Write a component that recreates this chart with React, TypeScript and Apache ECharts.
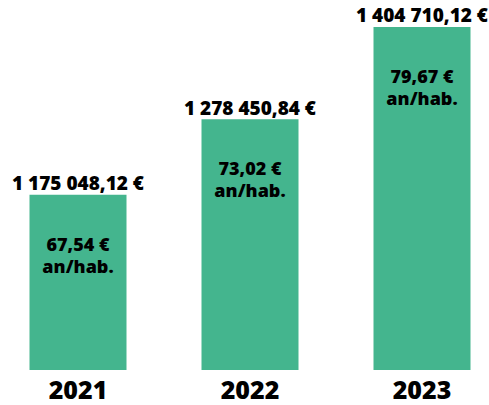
import React, { useEffect, useRef } from "react";
import * as echarts from "echarts";

const years = ["2021", "2022", "2023"];
const totals = [1175048.12, 1278450.84, 1404710.12];
const perCapita = [67.54, 73.02, 79.67];

const BAR_COLOR = "#44B58E";
const FONT = "Open Sans";

function frNumber(v: number): string {
  const [intPart, dec] = v.toFixed(2).split(".");
  const grouped = intPart.replace(/\B(?=(\d{3})+(?!\d))/g, " ");
  return `${grouped},${dec}`;
}

export default function App() {
  const ref = useRef<HTMLDivElement>(null);

  useEffect(() => {
    if (!ref.current) return;
    const chart = echarts.init(ref.current, undefined, { renderer: "svg" });
    chart.setOption({
      animation: false,
      grid: { left: 0, right: 0, top: 26, bottom: 35 },
      xAxis: {
        type: "category",
        data: years,
        axisLine: { show: false },
        axisTick: { show: false },
        axisLabel: {
          color: "#000",
          fontFamily: FONT,
          fontWeight: 800,
          fontSize: 25,
          lineHeight: 22,
          margin: 8,
        },
      },
      yAxis: {
        type: "value",
        min: 935000,
        max: 1406000,
        show: false,
        splitLine: { show: false },
      },
      series: [
        {
          type: "bar",
          data: totals,
          barWidth: 97,
          itemStyle: { color: BAR_COLOR },
          label: {
            show: true,
            position: "top",
            distance: 2,
            color: "#000",
            fontFamily: FONT,
            fontWeight: 800,
            fontSize: 19,
            lineHeight: 19,
            formatter: (p: any) => `${frNumber(totals[p.dataIndex])} €`,
          },
        },
        {
          type: "bar",
          data: totals,
          barWidth: 97,
          barGap: "-100%",
          silent: true,
          itemStyle: { color: "rgba(0,0,0,0)" },
          label: {
            show: true,
            position: "insideTop",
            distance: 38,
            color: "#000",
            fontFamily: FONT,
            fontWeight: 800,
            fontSize: 18,
            lineHeight: 22,
            align: "center",
            formatter: (p: any) =>
              `${perCapita[p.dataIndex].toFixed(2).replace(".", ",")} €\nan/hab.`,
          },
        },
      ],
    });
    return () => chart.dispose();
  }, []);

  return (
    <div
      ref={ref}
      style={{ position: "absolute", left: -8, top: 0, width: 516, height: 405 }}
    />
  );
}
